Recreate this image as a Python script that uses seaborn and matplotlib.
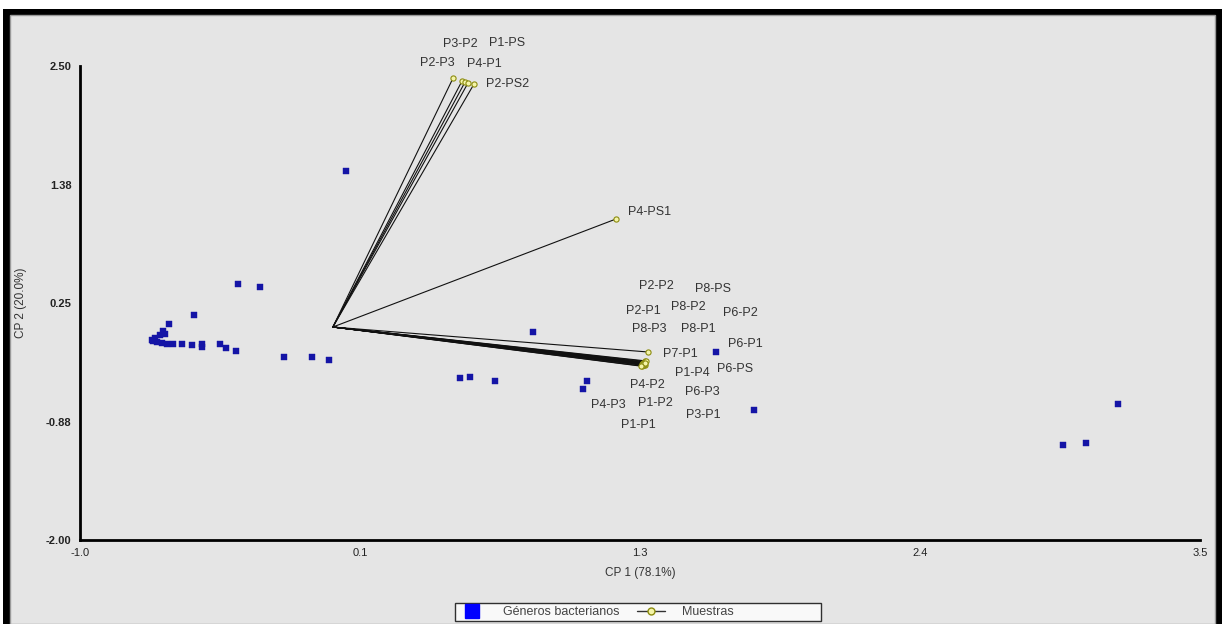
import numpy as np
import pandas as pd
import matplotlib
matplotlib.use("Agg")
import matplotlib.pyplot as plt
from matplotlib.patches import Rectangle
from matplotlib.lines import Line2D
import seaborn as sns

# ---------------- data ----------------
# Bacterial genera scores (CP1, CP2)
genera_x = [-0.542, -0.642, -0.667, -0.679, -0.699, -0.707, -0.711, -0.691, -0.671, -0.658,
            -0.650, -0.626, -0.590, -0.550, -0.510, -0.510, -0.438, -0.413, -0.373,
            -0.365, -0.277, -0.180, -0.068, 0.000, 0.069, 0.820, 0.527, 0.567, 0.667,
            1.037, 1.021, 1.555, 1.708, 3.170, 3.042, 2.949]
genera_y = [0.136, 0.051, -0.016, -0.054, -0.082, -0.111, -0.101, -0.120, -0.130, -0.044,
            -0.139, -0.139, -0.139, -0.149, -0.139, -0.168, -0.139, -0.177, -0.206,
            0.430, 0.402, -0.263, -0.263, -0.291, 1.503, -0.025, -0.462, -0.453, -0.491,
            -0.491, -0.567, -0.215, -0.766, -0.709, -1.079, -1.098]

# Sample vectors (endpoints)
sample_names = ["P3-P2", "P1-PS", "P2-P3", "P4-P1", "P2-PS2", "P4-PS1",
                "P2-P2", "P8-PS", "P2-P1", "P8-P2", "P6-P2", "P8-P3", "P8-P1", "P6-P1",
                "P7-P1", "P1-P4", "P6-PS", "P4-P2", "P6-P3", "P4-P3", "P1-P2", "P3-P1", "P1-P1"]
sample_x = [0.535, 0.547, 0.499, 0.559, 0.583, 1.153,
            1.272, 1.270, 1.268, 1.266, 1.264, 1.262, 1.260, 1.274,
            1.282, 1.270, 1.268, 1.262, 1.266, 1.258, 1.264, 1.270, 1.256]
sample_y = [2.358, 2.348, 2.386, 2.339, 2.329, 1.047,
            -0.305, -0.310, -0.315, -0.318, -0.322, -0.326, -0.330, -0.300,
            -0.215, -0.335, -0.338, -0.342, -0.325, -0.348, -0.332, -0.320, -0.350]
origin = (0.016, 0.022)

# label placement (layout, data units)
label_x = [0.527, 0.716, 0.434, 0.623, 0.716, 1.290,
           1.314, 1.543, 1.262, 1.443, 1.652, 1.286, 1.483, 1.672,
           1.411, 1.459, 1.632, 1.278, 1.499, 1.121, 1.310, 1.503, 1.242]
label_y = [2.709, 2.718, 2.528, 2.519, 2.329, 1.114,
           0.411, 0.383, 0.174, 0.212, 0.155, 0.003, 0.003, -0.139,
           -0.234, -0.415, -0.377, -0.529, -0.595, -0.719, -0.700, -0.813, -0.908]

x_ticks = [-1.0, 0.125, 1.25, 2.375, 3.5]
x_ticklabels = ["-1.0", "0.1", "1.3", "2.4", "3.5"]
y_ticks = [-2.0, -0.875, 0.25, 1.375, 2.5]
y_ticklabels = ["-2.00", "-0.88", "0.25", "1.38", "2.50"]

# ---------------- style ----------------
sns.set_style("white")
plt.rcParams["font.family"] = ["Liberation Sans", "DejaVu Sans"]

BG = "#e5e5e5"
BLUE = "#1414a6"
TXT = "#333333"

fig = plt.figure(figsize=(12.22, 6.24), dpi=100)
fig.patch.set_facecolor("white")
W, H = 1222, 624
# black frame and grey panel
fig.patches.append(Rectangle((3 / W, 0), 1 - 3 / W, 1 - 9 / H, transform=fig.transFigure,
                             facecolor="black", edgecolor="none", zorder=-10))
fig.patches.append(Rectangle((10 / W, 0), (1215 - 10) / W, 1 - 15 / H, transform=fig.transFigure,
                             facecolor=BG, edgecolor="#9a9a9a", linewidth=1, zorder=-9))

ax = fig.add_axes([80 / W, 1 - 540 / H, (1200 - 80) / W, (540 - 66) / H])
ax.set_facecolor("none")

gen_df = pd.DataFrame({"x": genera_x, "y": genera_y})
smp_df = pd.DataFrame({"name": sample_names, "x": sample_x, "y": sample_y,
                       "lx": label_x, "ly": label_y})

# vectors
for _, r in smp_df.iterrows():
    ax.plot([origin[0], r.x], [origin[1], r.y], color="#111111", lw=0.8, zorder=2)
sns.scatterplot(data=smp_df, x="x", y="y", ax=ax, marker="o", s=14,
                facecolor="#f4f4a8", edgecolor="#8c8c10", linewidth=0.8, zorder=3, legend=False)

# bacterial genera
sns.scatterplot(data=gen_df, x="x", y="y", ax=ax, marker="s", s=20,
                color=BLUE, edgecolor=BLUE, linewidth=0.3, zorder=4, legend=False)

for _, r in smp_df.iterrows():
    ax.text(r.lx, r.ly, r["name"], ha="center", va="center", fontsize=9, color=TXT, zorder=5)

ax.set_xlim(-1.0, 3.5)
ax.set_ylim(-2.0, 2.5)
ax.set_xticks(x_ticks)
ax.set_xticklabels(x_ticklabels)
ax.set_yticks(y_ticks)
ax.set_yticklabels(y_ticklabels, fontweight="bold")
ax.tick_params(axis="both", length=3, width=0.8, colors="#555555", labelsize=8,
               labelcolor="#222222", pad=3)
ax.set_xlabel("CP 1 (78.1%)", fontsize=8.5, color=TXT, labelpad=6)
ax.set_ylabel("CP 2 (20.0%)", fontsize=8.5, color=TXT, labelpad=14)
for s in ["top", "right"]:
    ax.spines[s].set_visible(False)
for s in ["left", "bottom"]:
    ax.spines[s].set_color("black")
    ax.spines[s].set_linewidth(2)

handles = [Line2D([], [], marker="s", color="none", markerfacecolor="#0000ff",
                  markeredgecolor="#0000ff", markersize=10, label="Géneros bacterianos"),
           Line2D([], [], marker="o", color="#333333", lw=1, markersize=5,
                  markerfacecolor="#f4f4a8", markeredgecolor="#8c8c10",
                  label="Muestras" + "\u2007" * 12)]
leg = fig.legend(handles=handles, loc="lower left",
                 bbox_to_anchor=(455 / W, 1 - 621 / H),
                 ncol=2, fontsize=9, frameon=True, fancybox=False,
                 borderpad=0.25, borderaxespad=0, handlelength=2.2, columnspacing=1.4,
                 handletextpad=1.4)
leg.get_frame().set_edgecolor("black")
leg.get_frame().set_facecolor("white")
leg.get_frame().set_linewidth(1)
for t in leg.get_texts():
    t.set_color("#444444")

fig.savefig("out.png", dpi=100, facecolor=fig.get_facecolor())
